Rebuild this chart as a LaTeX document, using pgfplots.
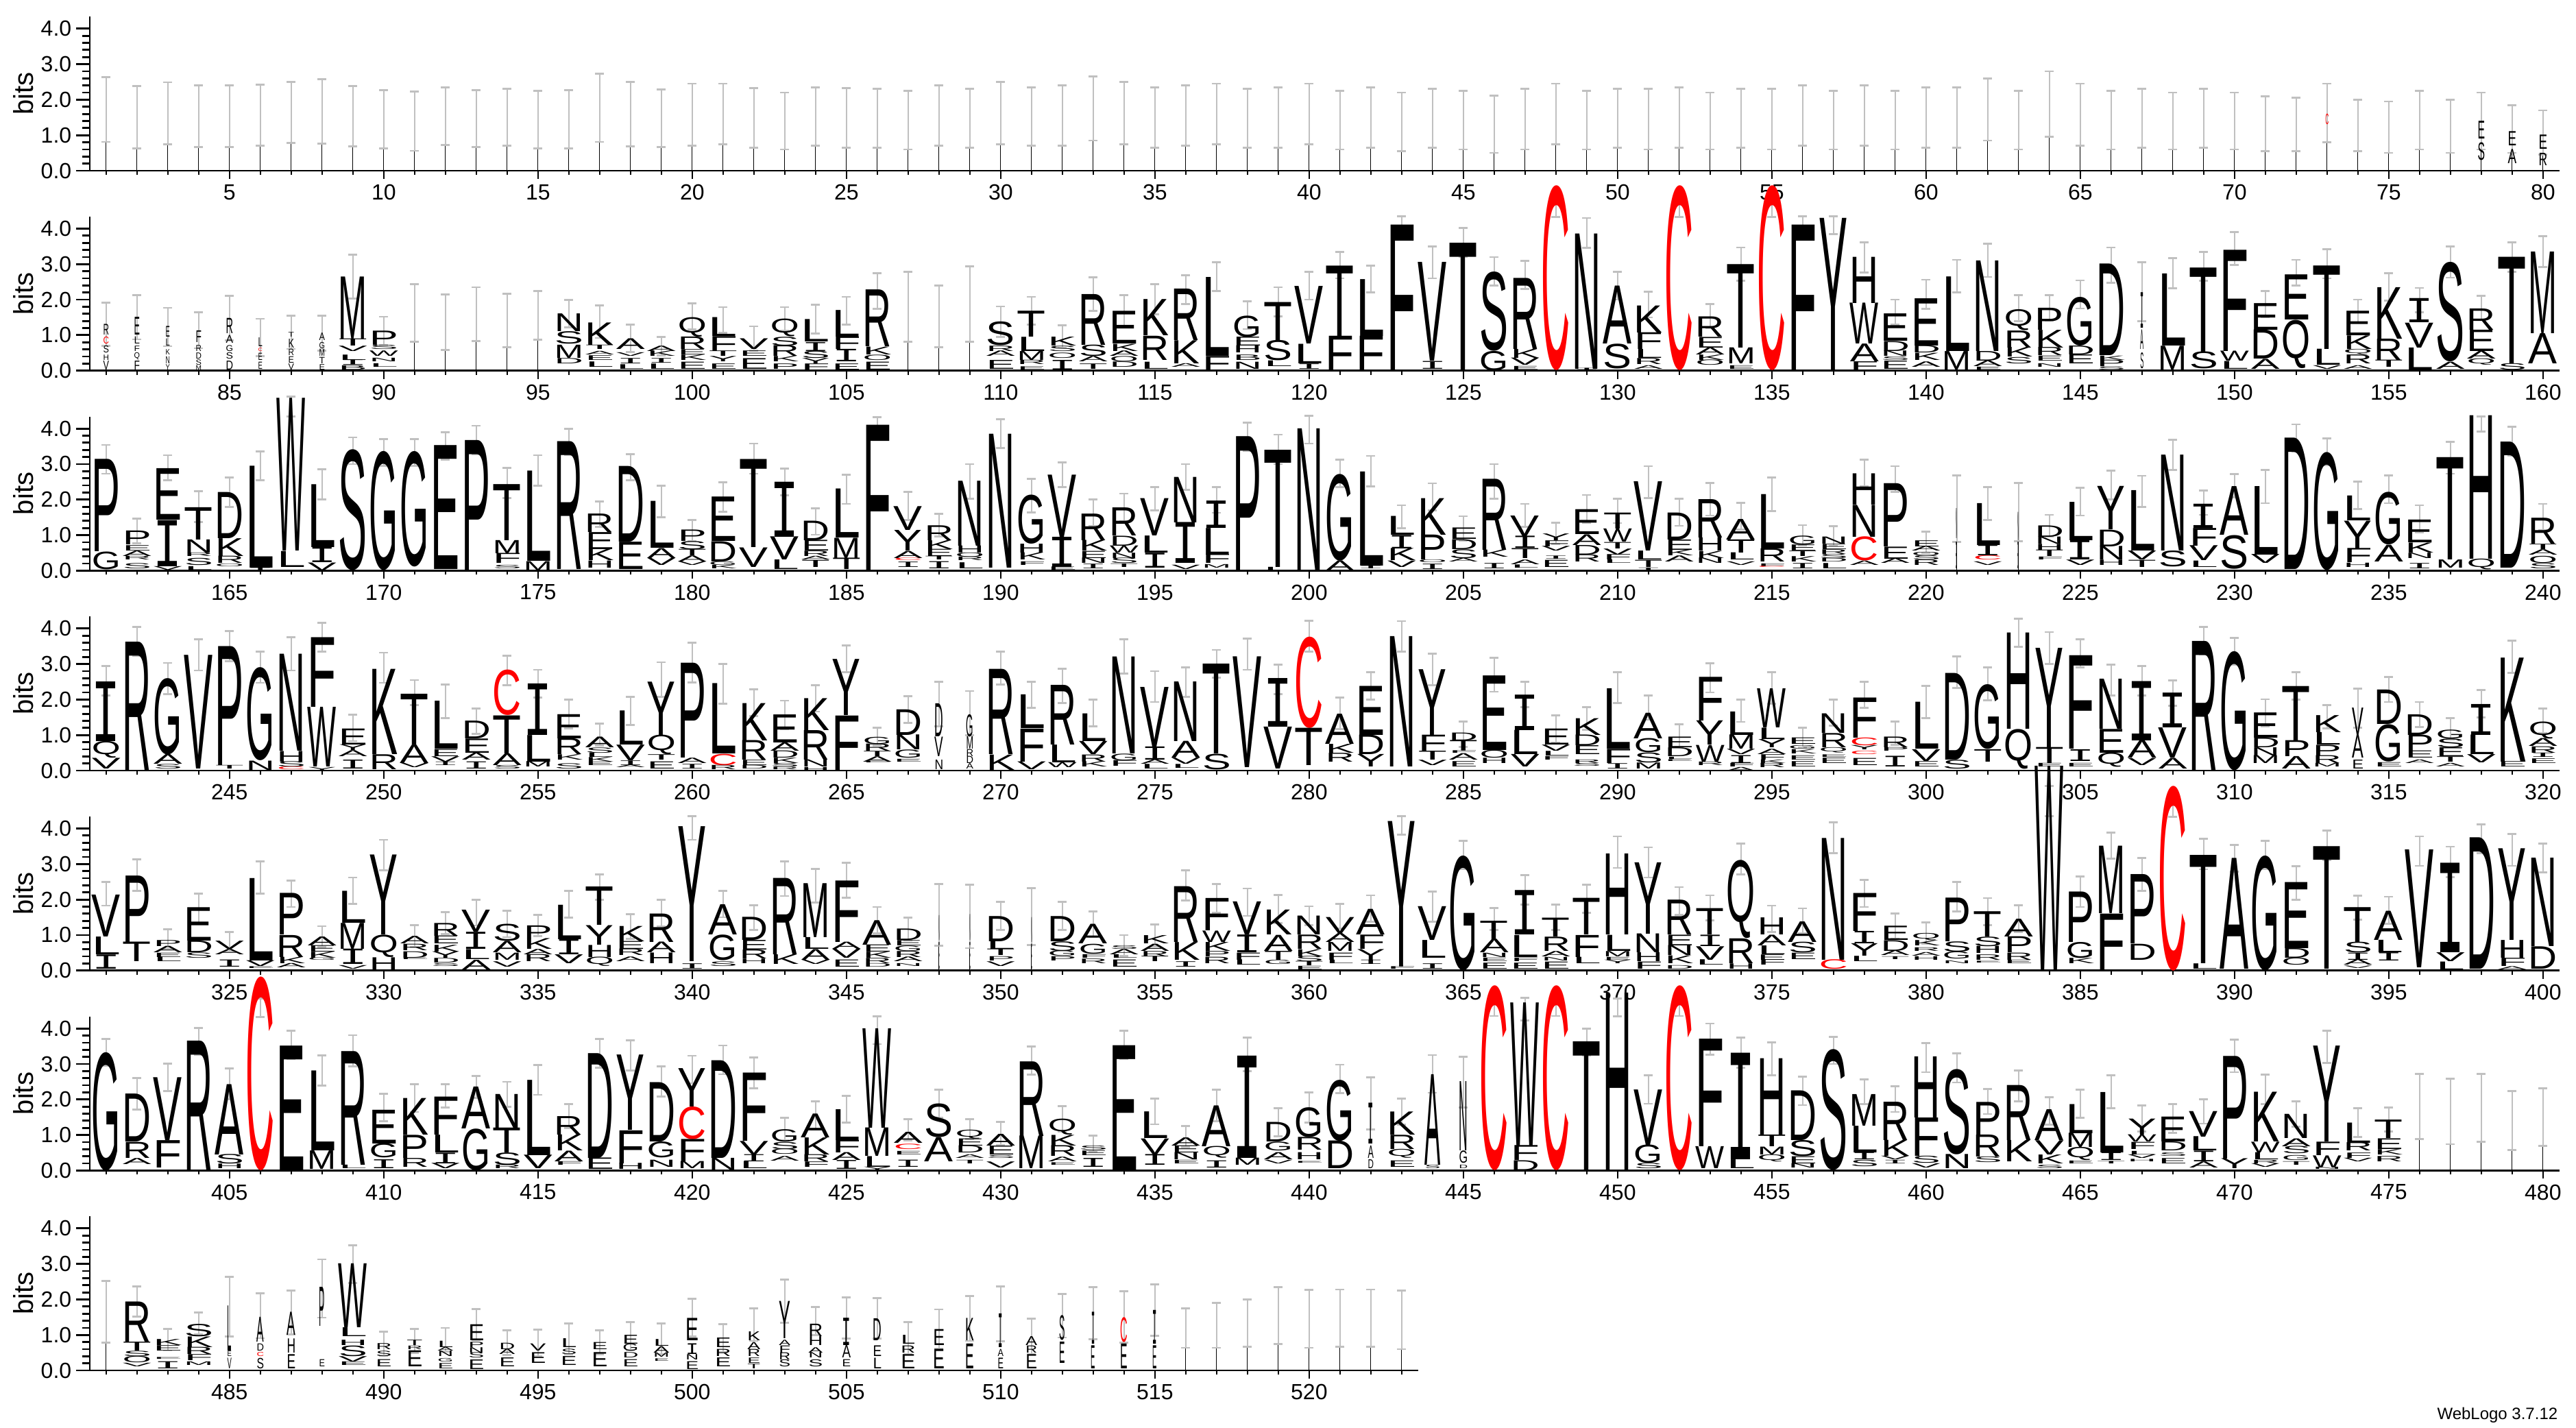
\documentclass[border=0pt]{standalone}
\usepackage{pgfplots}
\usepackage{pgfplotstable}
\usepackage{fontspec}
\setmainfont{Liberation Sans}
\setmonofont{Liberation Mono}
\pgfplotsset{compat=1.18}
\definecolor{errg}{RGB}{192,192,192}
\newdimen\lh
\newcommand\logoL[3]{\pgfmathsetlength\lh{#2*12.95pt}\ifnum\strcmp{#1}{C}=0\color{red}\fi\resizebox*{#3\dimexpr10.5pt\relax}{\lh}{\ifnum\strcmp{#1}{I}=0\ttfamily\fi#1}}
\pgfplotstableset{
  create on use/mid/.style={create col/expr={(\thisrow{lo}+\thisrow{hi})/2}},
  create on use/err/.style={create col/expr={(\thisrow{hi}-\thisrow{lo})/2}}}
\pgfplotstableread{
x lo hi t
1 .81 2.63 1.65
2 .63 2.38 1.5
3 .74 2.49 1.58
4 .67 2.4 1.53
5 .67 2.4 1.53
6 .71 2.42 1.55
7 .78 2.5 1.65
8 .76 2.58 1.75
9 .69 2.38 1.52
10 .62 2.27 1.45
11 .56 2.23 1.42
12 .73 2.35 1.52
13 .67 2.27 1.48
14 .71 2.31 1.5
15 .63 2.25 1.42
16 .62 2.27 1.45
17 .81 2.73 1.75
18 .69 2.5 1.6
19 .67 2.29 1.45
20 .7 2.45 1.57
21 .75 2.45 1.6
22 .65 2.32 1.48
23 .6 2.2 1.4
24 .7 2.35 1.52
25 .65 2.32 1.48
26 .65 2.3 1.48
27 .6 2.25 1.42
28 .7 2.4 1.55
29 .65 2.3 1.48
30 .75 2.5 1.62
31 .7 2.35 1.52
32 .7 2.4 1.55
33 .85 2.65 1.75
34 .75 2.5 1.62
35 .65 2.35 1.5
36 .7 2.4 1.55
37 .75 2.45 1.6
38 .65 2.3 1.48
39 .65 2.35 1.5
40 .75 2.45 1.6
41 .6 2.25 1.42
42 .65 2.35 1.5
43 .55 2.2 1.38
44 .65 2.3 1.48
45 .6 2.25 1.42
46 .5 2.12 1.3
47 .6 2.3 1.45
48 .75 2.45 1.6
49 .6 2.25 1.42
50 .65 2.3 1.48
51 .6 2.3 1.45
52 .65 2.35 1.5
53 .6 2.2 1.4
54 .65 2.3 1.48
55 .6 2.3 1.45
56 .7 2.4 1.55
57 .6 2.25 1.42
58 .7 2.4 1.55
59 .6 2.25 1.42
60 .65 2.35 1.5
61 .65 2.35 1.5
62 .85 2.6 1.72
63 .6 2.25 1.42
64 .95 2.8 1.87
65 .7 2.45 1.58
66 .6 2.25 1.42
67 .65 2.3 1.48
68 .6 2.2 1.4
69 .65 2.3 1.48
70 .6 2.2 1.4
71 .55 2.1 1.32
72 .55 2.05 1.3
73 .8 2.45 1.6
74 .55 2 1.28
75 .5 1.95 1.22
76 .6 2.25 1.42
77 .5 2 1.25
78 .6 2.2 1.4
79 .5 1.85 1.15
80 .45 1.7 1.05
}\EA
\pgfplotstableread{
x b t l w
73 1.3 1.6 C .12
78 .9 1.4 E .25
78 .3 .8 S .25
79 .7 1.1 E .3
79 .2 .6 A .3
80 .6 1 E .3
80 .15 .5 R .3
}\NA
\pgfplotstableread{
x lo hi t
81 .7 1.92 0
82 .88 2.12 0
83 .69 1.77 0
84 .63 1.64 0
85 .85 2.1 0
86 .41 1.46 0
87 .61 1.55 0
88 .56 1.55 0
89 2.03 3.26 0
90 .72 1.52 0
91 .82 2.43 1.65
92 .59 2.15 1.4
93 .84 2.35 1.6
94 .66 2.16 1.45
95 .87 2.24 1.55
96 1.22 1.99 0
97 .92 1.83 0
98 .53 1.29 0
99 .43 .95 0
100 1.16 1.9 0
101 1.06 1.79 0
102 .56 1.25 0
103 1.13 1.79 0
104 1.05 1.85 0
105 1.3 2.08 0
106 1.74 2.75 0
107 .82 2.79 1.85
108 .66 2.4 1.5
109 .82 2.93 1.85
110 .95 1.81 0
111 1.3 2.08 0
112 .65 1.27 0
113 1.69 2.63 0
114 1.26 2.12 0
115 1.59 2.43 0
116 1.88 2.69 0
117 2.24 3.06 0
118 1.17 1.95 0
119 1.53 2.35 0
120 2 2.79 0
121 2.6 3.35 0
122 2.2 2.96 0
123 3.72 4.35 0
124 2.6 3.5 0
125 3.2 4.02 0
126 2.4 3.2 0
127 2.3 3.09 0
128 4.33 4.82 0
129 3.46 4.3 0
130 2 2.79 0
131 1.5 2.23 0
132 4.33 4.82 0
133 1.2 1.88 0
134 2.54 3.47 0
135 4.33 4.82 0
136 3.72 4.35 0
137 3.85 4.35 0
138 2.77 3.62 0
139 1.3 2 0
140 1.74 2.56 0
141 2.2 3.12 0
142 2.64 3.58 0
143 1.4 2.12 0
144 1.42 2.12 0
145 1.75 2.54 0
146 2.48 3.47 0
147 1.4 3.06 0
148 2.32 3.17 0
149 2.53 3.35 0
150 2.97 3.9 0
151 1.5 2.25 0
152 2.39 3.12 0
153 2.6 3.42 0
154 1.36 2 0
155 1.98 2.75 0
156 1.65 2.33 0
157 2.62 3.49 0
158 1.43 2.11 0
159 2.78 3.62 0
160 2.92 3.78 0
}\EB
\pgfplotstableread{
x b t l w
81 1 1.3 R .2
81 .75 .95 C .2
81 .5 .7 S .2
81 .3 .45 H .2
81 .03 .28 V .2
82 1 1.5 E .2
82 .75 .95 L .2
82 .55 .7 F .2
82 .3 .5 Q .2
82 .03 .28 F .2
83 .95 1.25 E .15
83 .7 .9 L .15
83 .45 .6 K .15
83 .2 .4 N .15
83 .03 .18 Y .15
84 .8 1.13 F .2
84 .55 .72 R .2
84 .33 .5 D .2
84 .15 .3 S .2
84 .03 .15 M .2
85 1.05 1.48 R .25
85 .78 1 A .25
85 .55 .72 G .25
85 .32 .5 S .25
85 .03 .28 D .25
86 .68 .93 L .15
86 .55 .65 C .15
86 .3 .5 E .15
86 .05 .25 E .15
87 .95 1.08 T .2
87 .65 .9 K .2
87 .42 .6 R .2
87 .22 .4 E .2
87 .03 .2 V .2
88 .85 1.06 A .2
88 .62 .8 G .2
88 .4 .6 M .2
88 .2 .38 T .2
88 .03 .18 E .2
147 1.2 2.2 I .12
147 .6 1.15 A .12
147 .05 .5 S .12
}\NB
\pgfplotstableread{
x b t l
89 .9 2.65 M
89 .7 .9 T
89 .55 .7 V
89 .3 .45 L
89 .15 .3 I
89 .03 .15 B
90 .72 1.12 P
90 .6 .72 S
90 .4 .55 W
90 .25 .35 N
90 .1 .2 L
96 1.1 1.6 N
96 .75 1.1 S
96 .35 .72 M
96 .2 .35 D
97 .72 1.35 K
97 .6 .72 T
97 .45 .55 A
97 .3 .43 E
97 .1 .25 L
98 .6 .9 A
98 .4 .5 V
98 .2 .35 I
98 .05 .18 L
99 .55 .7 A
99 .4 .55 K
99 .22 .35 I
99 .05 .2 L
100 .95 1.5 Q
100 .6 .95 R
100 .45 .6 E
100 .3 .45 K
100 .05 .25 E
101 .97 1.5 L
101 .55 .97 F
101 .4 .55 T
101 .25 .4 Y
101 .05 .2 E
102 .6 .9 V
102 .4 .55 E
102 .05 .35 E
103 .95 1.45 Q
103 .7 .95 S
103 .4 .7 R
103 .25 .4 K
103 .05 .2 P
104 .82 1.45 L
104 .55 .8 I
104 .35 .55 S
104 .2 .35 Y
104 .03 .2 F
105 .95 1.7 L
105 .6 .95 F
105 .25 .6 I
105 .03 .2 E
106 .67 2.27 R
106 .45 .67 K
106 .3 .45 O
106 .03 .25 E
110 .7 1.37 S
110 .55 .7 R
110 .4 .55 A
110 .05 .3 E
111 .95 1.68 T
111 .55 .95 L
111 .3 .55 M
111 .18 .3 R
111 .03 .12 E
112 .7 .95 K
112 .55 .7 S
112 .35 .5 O
112 .03 .3 I
113 .72 2.15 R
113 .4 .72 S
113 .25 .4 A
113 .05 .2 T
114 .75 1.67 E
114 .55 .75 K
114 .4 .55 A
114 .25 .4 O
114 .1 .25 D
115 .98 2 K
115 .3 .98 R
115 .05 .25 L
116 .85 2.3 R
116 .2 .85 K
116 .1 .2 A
117 .4 2.62 L
117 0 .4 F
118 .95 1.55 G
118 .7 .95 E
118 .5 .7 H
118 .3 .45 B
118 .05 .25 N
119 .85 1.92 T
119 .28 .85 S
119 .12 .28 L
120 .75 2.37 V
120 .2 .75 L
120 .05 .2 I
121 .97 2.95 T
121 0 .97 F
122 .97 2.57 L
122 0 .97 F
123 0 4.1 F
124 .27 3.05 V
124 .05 .27 I
125 0 3.59 T
126 .55 2.78 S
126 0 .55 G
127 .6 2.6 R
127 .35 .6 K
127 .15 .35 V
127 .02 .12 E
128 0 5.2 C
129 .05 3.86 N
129 0 .05 I
130 .75 2.38 A
130 .05 .75 S
131 1.07 1.83 K
131 .6 1.07 F
131 .35 .6 L
131 .18 .35 R
131 .05 .15 A
132 0 5.2 C
133 .95 1.52 R
133 .65 .95 E
133 .45 .65 A
133 .3 .45 K
133 .15 .3 O
134 .65 3 T
134 .2 .65 M
134 .05 .15 E
135 0 5.2 C
136 0 4.1 F
137 .03 4.3 Y
138 1.9 3.2 H
138 .75 1.9 W
138 .25 .75 A
138 0 .25 F
139 .83 1.6 E
139 .55 .83 D
139 .4 .55 N
139 .3 .4 S
139 .05 .28 E
140 .7 2.03 E
140 .5 .7 D
140 .3 .5 K
140 .1 .25 A
141 .55 2.65 L
141 .03 .55 M
142 .55 3.1 N
142 .28 .55 D
142 .12 .28 A
142 .02 .1 E
143 1.13 1.72 Q
143 .65 1.13 R
143 .38 .65 K
143 .2 .38 S
144 1.15 1.77 P
144 .65 1.15 K
144 .42 .65 R
144 .28 .42 E
144 .1 .2 N
145 .7 2.07 G
145 .45 .7 D
145 .2 .45 E
146 .42 3 D
146 .3 .42 K
146 .12 .3 P
146 .03 .12 S
148 .7 2.73 L
148 .03 .7 M
149 .53 2.9 T
149 .05 .53 S
150 .55 3.4 F
150 .27 .55 W
150 .05 .27 L
151 1.15 1.9 E
151 .33 1.15 D
151 .05 .33 A
152 1.43 2.7 E
152 .07 1.43 Q
153 .6 2.95 T
153 .15 .6 L
153 .05 .15 V
154 .98 1.67 E
154 .6 .98 K
154 .45 .6 Q
154 .2 .45 R
154 .05 .15 A
155 .9 2.35 K
155 .3 .9 R
155 .1 .3 T
156 1.35 2.03 I
156 .65 1.35 V
156 .03 .65 L
157 .25 3.05 S
157 .05 .25 A
158 1.15 1.75 R
158 .55 1.15 E
158 .33 .55 A
158 .15 .33 Q
159 .2 3.2 T
159 .02 .2 S
160 1.05 3.35 M
160 .2 1.05 A
}\LB
\pgfplotstableread{
x lo hi t
161 2.73 3.54 0
162 .77 1.47 0
163 2.54 3.25 0
164 1.37 2.23 0
165 1.79 2.62 0
166 2.54 3.36 0
167 4.34 4.9 0
168 2 2.85 0
169 3 3.75 0
170 2.95 3.7 0
171 2.95 3.7 0
172 3.13 3.9 0
173 3.28 4.08 0
174 2.05 2.9 0
175 2.39 3.25 0
176 3.25 4 0
177 1.23 1.95 0
178 2.55 3.28 0
179 1.5 2.39 0
180 .82 1.43 0
181 1.66 2.49 0
182 2.73 3.58 0
183 2.12 2.87 0
184 1.01 1.75 0
185 1.88 2.7 0
186 3.75 4.32 0
187 1.42 2.21 0
188 .96 1.6 0
189 2.03 3 0
190 3.46 4.27 0
191 1.64 2.59 0
192 2.36 3.04 0
193 1.26 2.01 0
194 1.39 2.17 0
195 1.69 2.35 0
196 2.28 3 0
197 1.63 2.35 0
198 3.38 4.16 0
199 3 3.83 0
200 3.58 4.36 0
201 2.36 3.13 0
202 2.37 3.23 0
203 1.2 1.84 0
204 1.7 2.46 0
205 .84 1.53 0
206 2.03 3 0
207 1.23 1.88 0
208 .75 1.35 0
209 1.34 2.13 0
210 1.34 2.02 0
211 2.05 2.94 0
212 1.26 2.02 0
213 1.55 2.47 0
214 1.15 1.91 0
215 1.68 2.62 0
216 .7 1.28 0
217 .7 1.25 0
218 2.37 3.12 0
219 2.22 2.94 0
220 .5 1.1 0
221 .81 2.68 1.75
222 1.43 2.36 0
223 .82 2.47 1.65
224 .97 1.57 0
225 1.55 2.34 0
226 2 2.81 0
227 1.79 2.67 0
228 2.83 3.68 0
229 1.57 2.25 0
230 2.07 2.72 0
231 1.9 2.84 0
232 3.35 4.12 0
233 2.97 3.72 0
234 1.74 2.5 0
235 1.9 2.68 0
236 1.07 1.84 0
237 2.73 3.63 0
238 3.92 4.34 0
239 3.23 4.05 0
240 1.13 1.88 0
}\EC
\pgfplotstableread{
x b t l w
221 .9 1.75 N .05
221 .05 .8 E .05
223 .85 1.65 N .05
223 .05 .8 E .05
}\NC
\pgfplotstableread{
x b t l
161 .53 3.13 P
161 .03 .53 G
162 .73 1.12 P
162 .55 .7 E
162 .4 .55 A
162 .3 .4 R
162 .05 .2 S
163 1.42 2.87 E
163 .12 1.42 I
163 .02 .12 V
164 .87 1.78 T
164 .5 .87 N
164 .4 .5 R
164 .15 .35 S
164 .02 .12 L
165 .9 2.2 D
165 .4 .9 K
165 .2 .4 R
165 .12 .2 O
166 .08 2.95 L
166 0 .08 I
167 .55 4.85 W
167 .1 .55 L
168 .65 2.42 L
168 .22 .65 I
168 0 .22 V
169 0 3.4 S
170 0 3.35 G
171 .1 3.35 G
172 .03 3.52 E
173 0 3.67 P
174 .85 2.43 T
174 .48 .85 M
174 .2 .48 F
174 .05 .15 S
175 .26 2.8 L
175 0 .26 M
176 .03 3.63 R
177 1.08 1.6 R
177 .6 1.08 E
177 .28 .6 K
177 .08 .28 H
178 .8 2.93 D
178 .03 .8 E
179 .63 1.95 L
179 .35 .63 A
179 .15 .35 V
180 .83 1.15 P
180 .6 .83 S
180 .42 .6 T
180 .25 .42 A
180 .15 .25 V
181 .82 2.07 E
181 .25 .82 D
181 .15 .25 G
181 .05 .15 K
182 .65 3.13 T
182 .1 .65 V
183 .95 2.5 I
183 .3 .95 V
183 .03 .3 L
184 .85 1.4 D
184 .55 .85 E
184 .4 .55 R
184 .3 .4 A
184 .1 .3 T
185 .92 2.3 L
185 .35 .92 M
185 .03 .35 T
186 0 4.1 F
187 1.13 1.8 V
187 .55 1.13 Y
187 .35 .55 A
187 .28 .35 C
187 .1 .25 I
188 .85 1.27 R
188 .6 .85 K
188 .4 .6 E
188 .3 .4 T
188 .05 .25 I
189 .7 2.53 N
189 .5 .7 H
189 .38 .5 O
189 .28 .38 R
189 .05 .22 L
190 .08 3.85 N
191 .75 2.13 G
191 .5 .75 H
191 .3 .5 K
191 .15 .25 F
192 .95 2.7 V
192 .1 .95 I
192 .01 .1 E
193 .85 1.6 R
193 .55 .85 K
193 .35 .55 E
193 .2 .35 N
193 .05 .18 I
194 .98 1.77 R
194 .7 .98 D
194 .5 .7 W
194 .35 .5 N
194 .2 .35 S
194 .1 .2 T
195 .98 2.03 V
195 .5 .98 L
195 .08 .5 I
196 1.35 2.63 N
196 .2 1.35 I
196 .03 .15 V
197 1.2 1.97 I
197 .45 1.2 L
197 .2 .45 F
197 .08 .18 M
198 .02 3.78 P
199 .1 3.4 T
199 0 .1 L
200 0 4 N
201 .28 2.72 G
201 0 .28 A
202 .13 2.78 L
202 .05 .13 I
203 1 1.53 L
203 .62 1 I
203 .28 .62 K
203 .1 .28 V
204 1 2.03 K
204 .3 1 P
204 .22 .3 O
204 .03 .18 I
205 .88 1.2 E
205 .6 .88 D
205 .35 .6 S
205 .25 .35 A
206 .58 2.58 R
206 .38 .58 K
206 .05 .2 I
207 .97 1.55 V
207 .63 .97 I
207 .35 .63 T
207 .17 .3 A
207 .08 .17 L
208 .85 1.04 Y
208 .68 .85 F
208 .55 .68 V
208 .33 .42 I
208 .1 .3 E
209 1.02 1.72 E
209 .72 1.02 A
209 .45 .72 D
209 .25 .45 R
210 1.17 1.62 T
210 .8 1.17 W
210 .62 .8 T
210 .45 .62 V
210 .3 .45 F
210 .2 .3 L
211 .55 2.5 V
211 .3 .55 L
211 .1 .3 T
211 0 .08 I
212 .87 1.63 D
212 .58 .87 E
212 .42 .58 K
212 .25 .42 A
213 .92 2 R
213 .55 .92 H
213 .35 .55 K
213 .2 .35 N
214 .87 1.45 A
214 .5 .87 T
214 .3 .5 L
214 .15 .25 V
215 .62 2.15 L
215 .25 .62 R
215 .12 .2 F
215 .08 .12 C
216 .72 .97 G
216 .55 .72 E
216 .4 .55 T
216 .25 .4 K
216 .05 .2 I
217 .75 .95 N
217 .6 .75 E
217 .47 .6 R
217 .35 .47 S
217 .25 .35 D
217 .05 .2 L
218 1.85 2.73 H
218 .95 1.85 N
218 .27 .95 C
218 .15 .27 A
219 .67 2.45 P
219 .33 .67 E
219 .2 .33 A
220 .68 .85 E
220 .55 .68 A
220 .42 .52 O
220 .3 .42 S
220 .15 .3 R
222 .72 1.9 L
222 .42 .72 I
222 .3 .42 C
222 .15 .25 V
224 .95 1.27 D
224 .75 .95 N
224 .58 .75 H
224 .4 .58 T
224 .3 .38 F
225 .85 1.93 L
225 .3 .85 I
225 .15 .3 V
226 1.15 2.37 Y
226 .68 1.15 D
226 .3 .68 N
226 .15 .3 H
227 .55 2.25 L
227 .3 .55 V
227 .1 .3 T
228 .55 3.25 N
228 .1 .55 S
229 1.2 1.88 I
229 .7 1.2 F
229 .28 .7 V
229 .1 .28 L
230 1 2.37 A
230 .05 1 S
231 .45 2.38 L
231 .2 .45 V
232 .03 3.73 D
233 0 3.32 G
234 1.4 2.1 L
234 .62 1.4 Y
234 .22 .62 F
234 .1 .22 H
235 .72 2.2 G
235 .25 .72 A
236 .78 1.42 E
236 .5 .78 K
236 .35 .5 N
236 .05 .2 I
237 .3 3.18 T
237 .07 .3 M
238 .33 4.37 H
238 .03 .33 Q
239 .08 3.63 D
240 .75 1.48 R
240 .6 .75 T
240 .45 .6 A
240 .2 .4 O
240 .05 .2 S
}\LC
\pgfplotstableread{
x lo hi t
241 2.11 2.95 0
242 3.24 4.04 0
243 2.15 3.03 0
244 2.82 3.69 0
245 3.08 3.93 0
246 2.47 3.35 0
247 2.82 3.76 0
248 3.35 4.16 0
249 .83 1.58 0
250 2.47 3.32 0
251 1.84 2.55 0
252 1.48 2.42 0
253 1.03 1.75 0
254 2.4 3.24 0
255 2.06 2.84 0
256 1.19 2 0
257 .71 1.32 0
258 1.28 2.08 0
259 2.08 3.05 0
260 2.48 3.6 0
261 1.88 3 0
262 1.53 2.29 0
263 1.16 1.97 0
264 1.66 2.41 0
265 2.77 3.53 0
266 .7 1.2 0
267 1.35 2.09 0
268 1.24 2.5 0
269 1 2.24 0
270 2.42 3.35 0
271 1.77 2.5 0
272 1.9 2.87 0
273 1.24 2 0
274 2.74 3.69 0
275 1.93 2.8 0
276 2.08 2.91 0
277 2.61 3.4 0
278 2.84 3.72 0
279 2.16 2.99 0
280 3.35 4.22 0
281 1.17 2.05 0
282 2 2.77 0
283 3.35 4.21 0
284 2.41 3.29 0
285 .66 1.38 0
286 2.22 3.17 0
287 1.79 2.5 0
288 .79 1.55 0
289 1.15 1.79 0
290 1.9 2.77 0
291 1.43 2.11 0
292 .66 1.3 0
293 2.2 3.02 0
294 1.37 2 0
295 1.88 2.77 0
296 .65 1.2 0
297 1.27 2 0
298 1.77 2.5 0
299 .72 1.38 0
300 1.48 2.39 0
301 2.32 3.22 0
302 1.98 2.9 0
303 3.48 4.27 0
304 3 3.9 0
305 2.9 3.69 0
306 2.11 2.98 0
307 2.12 2.95 0
308 1.83 2.54 0
309 3.27 4.05 0
310 2.98 3.73 0
311 1.24 2.01 0
312 2 2.77 0
313 1.19 1.84 0
314 1.2 2.3 0
315 1.93 2.64 0
316 1.23 1.93 0
317 .88 1.48 0
318 1.5 2.27 0
319 2.75 3.66 0
320 1.05 1.75 0
}\ED
\pgfplotstableread{
x b t l w
268 .95 1.88 D .3
268 .4 .95 V .3
268 .03 .3 N .3
269 .95 1.58 G .25
269 .6 .95 M .25
269 .4 .6 R .25
269 .2 .4 D .25
269 .05 .2 A .25
314 1 1.77 V .4
314 .35 1 A .4
314 .05 .3 E .4
}\ND
\pgfplotstableread{
x b t l
241 .82 2.5 I
241 .35 .82 Q
241 .05 .35 V
242 0 3.63 R
243 .45 2.6 G
243 .18 .45 A
243 .05 .18 S
244 .05 3.25 V
245 .15 3.5 P
245 .05 .15 T
246 .28 2.9 G
246 .02 .28 N
247 .55 3.28 N
247 .25 .55 H
247 .1 .25 S
247 .02 .1 C
248 1.78 3.74 F
248 .1 1.78 W
248 0 .1 Y
249 .73 1.18 E
249 .57 .73 Y
249 .4 .57 A
249 .05 .3 I
250 .45 2.85 K
250 .03 .45 R
251 .72 2.15 T
251 .2 .72 A
251 .08 .2 V
252 .6 1.95 L
252 .4 .6 E
252 .25 .4 V
252 .15 .25 I
253 .9 1.4 D
253 .5 .9 E
253 .3 .5 A
253 .05 .25 I
254 1.55 2.83 C
254 .48 1.55 T
254 .15 .48 A
254 .05 .15 S
255 1 2.45 I
255 .25 1 L
255 .1 .25 M
256 .9 1.58 E
256 .45 .9 R
256 .3 .45 K
256 .05 .2 S
257 .65 .95 A
257 .5 .65 S
257 .38 .5 L
257 .25 .38 K
257 .15 .25 E
258 .72 1.68 L
258 .28 .72 V
258 .15 .28 I
258 .08 .15 A
259 1 2.5 Y
259 .45 1 Q
259 .3 .45 T
259 .05 .25 E
260 .35 3.02 P
260 .2 .35 A
260 .05 .18 I
261 .47 2.45 L
261 .15 .47 C
261 .03 .15 R
262 .85 1.9 K
262 .3 .85 R
262 .15 .3 E
262 .05 .15 D
263 .78 1.57 E
263 .55 .78 A
263 .35 .55 D
263 .2 .35 K
263 .1 .2 S
263 .03 .1 R
264 1.13 2.03 K
264 .3 1.13 R
264 .1 .3 N
264 0 .1 H
265 1.55 3.13 Y
265 .02 1.55 F
266 .75 .95 G
266 .55 .75 R
266 .4 .55 T
266 .25 .4 A
266 .2 .25 E
267 1 1.72 D
267 .58 1 N
267 .35 .58 G
267 .25 .33 E
270 .45 2.85 R
270 .02 .45 K
271 1.18 2.13 L
271 .25 1.18 F
271 .03 .25 V
272 .72 2.4 R
272 .22 .72 L
272 .08 .22 W
273 .82 1.6 L
273 .45 .82 V
273 .25 .45 R
273 .1 .25 K
274 .47 3.2 N
274 .28 .47 G
274 .12 .28 F
275 .67 2.35 V
275 .3 .67 I
275 .18 .3 A
275 .05 .18 L
276 .82 2.5 N
276 .35 .82 A
276 .18 .35 V
276 .07 .18 L
277 .47 3 T
277 .03 .47 S
278 .08 3.2 V
279 1.23 2.6 I
279 .05 1.23 V
280 1.2 3.77 C
280 .15 1.2 T
281 .75 1.6 A
281 .5 .75 K
281 .25 .5 R
282 1 2.38 E
282 .45 1 D
282 .1 .45 Y
283 .1 3.77 N
284 1 2.85 Y
284 .55 1 F
284 .3 .55 T
284 .15 .3 V
285 .85 1.07 D
285 .55 .85 T
285 .48 .55 F
285 .3 .48 A
285 .1 .25 E
286 .57 2.67 E
286 .35 .57 O
286 .2 .35 H
287 1.13 2.13 I
287 .45 1.13 L
287 .1 .45 V
288 .72 1.17 E
288 .55 .72 V
288 .42 .55 L
288 .3 .4 F
289 1 1.47 K
289 .7 1 D
289 .45 .7 E
289 .2 .3 R
289 .12 .2 S
290 .6 2.3 L
290 .2 .6 F
290 .05 .2 I
291 .9 1.62 A
291 .5 .9 G
291 .22 .5 S
291 .05 .22 M
292 .65 .95 E
292 .4 .65 D
292 .32 .38 L
292 .25 .3 E
293 1.4 2.63 F
293 .72 1.4 Y
293 .25 .72 W
293 .15 .25 R
294 1 1.66 L
294 .6 1 M
294 .45 .6 V
294 .2 .42 I
294 .1 .2 F
294 0 .1 A
295 1.2 2.3 W
295 .88 1.2 L
295 .65 .88 Y
295 .45 .6 A
295 .3 .45 F
295 .2 .3 K
295 .08 .2 R
296 .75 .93 E
296 .6 .7 G
296 .48 .6 K
296 .3 .42 E
296 .1 .25 E
297 1.05 1.6 N
297 .65 1.05 R
297 .5 .65 Q
297 .38 .45 E
297 .2 .35 E
298 .92 2.05 F
298 .7 .92 C
298 .58 .7 Y
298 .45 .55 C
298 .15 .35 E
299 .65 .95 R
299 .55 .65 P
299 .1 .4 I
300 .6 1.92 L
300 .27 .6 V
300 .1 .25 E
301 .3 2.74 D
301 .05 .3 S
302 .6 2.42 G
302 .25 .6 T
303 1.17 3.88 H
303 .05 1.17 Q
304 .65 3.45 Y
304 .2 .65 T
304 .1 .2 E
305 .6 3.23 F
305 .27 .6 I
305 .1 .2 E
306 1.17 2.58 N
306 .5 1.17 E
306 .1 .5 Q
307 .85 2.52 I
307 .35 .85 A
307 .15 .35 V
308 1.2 2.18 I
308 .35 1.2 V
308 .05 .35 A
309 0 3.65 R
310 0 3.35 G
311 .92 1.63 E
311 .65 .92 D
311 .42 .65 N
311 .2 .42 M
312 .85 2.38 T
312 .4 .85 P
312 .05 .4 A
313 1.07 1.55 K
313 .72 1.07 L
313 .42 .72 P
313 .2 .42 R
313 .1 .2 M
315 1.3 2.27 D
315 .25 1.3 G
315 .1 .22 E
316 1 1.58 D
316 .55 1 P
316 .35 .55 E
316 .2 .3 A
317 .9 1.15 G
317 .65 .9 S
317 .4 .65 E
317 .25 .4 T
317 .1 .2 A
318 1 1.87 I
318 .45 1 L
318 .22 .45 V
319 .25 3.18 K
319 .1 .25 E
320 .9 1.38 Q
320 .68 .9 A
320 .5 .68 R
320 .38 .5 I
320 .2 .33 E
}\LD
\pgfplotstableread{
x lo hi t
321 1.83 2.5 0
322 2.24 3.13 0
323 .6 1.16 0
324 1.34 2.17 0
325 .52 1.08 0
326 2.16 3.08 0
327 1.79 2.53 0
328 .66 1.25 0
329 1.87 2.62 0
330 2.83 3.68 0
331 .66 1.28 0
332 1.02 1.65 0
333 1.27 2 0
334 .94 1.68 0
335 .97 1.57 0
336 1.49 2.24 0
337 1.99 2.71 0
338 .9 1.59 0
339 1.25 2 0
340 3.68 4.35 0
341 1.5 2.24 0
342 1.15 1.84 0
343 2.1 3.08 0
344 1.92 2.86 0
345 2.05 3.03 0
346 1.05 1.79 0
347 .85 1.49 0
348 .7 2.44 1.55
349 .63 2.41 1.58
350 1.15 1.94 0
351 .72 2.32 1.5
352 1.15 1.94 0
353 .95 1.66 0
354 .41 1 0
355 .68 1.3 0
356 1.97 2.82 0
357 1.63 2.44 0
358 1.54 2.31 0
359 1.34 2.13 0
360 1.28 1.81 0
361 1.18 1.87 0
362 1.37 2.12 0
363 3.82 4.35 0
364 1.37 2.23 0
365 2.86 3.66 0
366 1.15 1.76 0
367 1.86 2.68 0
368 1.15 1.85 0
369 1.63 2.42 0
370 2.89 3.78 0
371 2.62 3.47 0
372 1.57 2.35 0
373 1.41 2.12 0
374 2.7 3.57 0
375 1.08 1.83 0
376 1.05 1.75 0
377 3.3 4.17 0
378 1.79 2.55 0
379 .89 1.6 0
380 .76 1.35 0
381 1.66 2.49 0
382 1.28 2.04 0
383 1.08 1.84 0
384 4.35 5.2 0
385 1.79 2.65 0
386 3.15 3.89 0
387 2.25 3.17 0
388 4.33 4.85 0
389 2.85 3.71 0
390 2.79 3.53 0
391 2.86 3.66 0
392 1.99 2.94 0
393 3.12 3.95 0
394 1.44 2.11 0
395 1.31 2.08 0
396 2.95 3.78 0
397 2.63 3.49 0
398 3.31 4.11 0
399 2.95 3.84 0
400 2.76 3.57 0
}\EE
\pgfplotstableread{
x b t l w
348 .85 1.55 N .04
348 .05 .8 E .04
349 .85 1.58 N .04
349 .05 .8 E .04
351 .8 1.5 N .04
351 .05 .75 E .04
}\NE
\pgfplotstableread{
x b t l
321 .95 2.13 V
321 .45 .95 L
321 .05 .45 I
322 .8 2.67 P
322 .25 .8 T
323 .68 .85 P
323 .5 .68 A
323 .38 .5 E
323 .25 .38 L
324 .83 1.77 E
324 .5 .83 D
324 .35 .5 S
325 .6 .83 V
325 .45 .6 A
325 .1 .3 I
326 .28 2.6 L
326 .12 .28 V
326 .05 .1 E
327 1 2.17 P
327 .38 1 R
327 .2 .38 K
327 .08 .2 A
328 .7 .95 A
328 .52 .7 E
328 .35 .52 K
328 .28 .35 G
329 1.33 2.23 L
329 .6 1.33 M
329 .17 .6 I
329 .05 .15 V
330 1 3.25 Y
330 .37 1 Q
330 .03 .37 H
331 .75 .96 A
331 .57 .75 R
331 .35 .53 D
331 .3 .35 E
332 .97 1.33 R
332 .75 .97 E
332 .53 .72 K
332 .35 .53 Y
332 .22 .35 D
332 .12 .2 S
333 1.08 1.7 V
333 .6 1.08 I
333 .32 .6 L
333 .03 .3 A
334 .82 1.3 S
334 .5 .82 A
334 .3 .5 M
334 .1 .25 V
335 .9 1.27 P
335 .6 .9 K
335 .45 .6 A
335 .25 .45 R
336 .88 1.85 L
336 .45 .88 I
336 .2 .45 V
337 1.27 2.35 T
337 .72 1.27 Y
337 .38 .72 H
337 .12 .38 Q
338 .82 1.25 K
338 .6 .82 E
338 .42 .6 R
338 .25 .38 A
339 .8 1.6 R
339 .5 .8 A
339 .2 .5 H
340 .25 4.05 Y
340 .05 .2 I
341 1 1.85 A
341 .28 1 G
341 .12 .25 S
342 .85 1.5 D
342 .58 .85 E
342 .33 .58 R
342 .2 .33 H
343 .45 2.6 R
343 .18 .45 K
344 .93 2.45 M
344 .6 .93 L
344 .3 .6 A
344 .18 .3 V
345 .8 2.53 F
345 .6 .8 A
345 .35 .6 V
345 .1 .3 E
346 .72 1.41 A
346 .52 .72 E
346 .35 .52 K
346 .2 .35 R
346 .1 .2 D
347 .85 1.17 D
347 .7 .85 E
347 .55 .7 G
347 .38 .55 R
347 .25 .38 A
347 .12 .2 N
350 .82 1.53 D
350 .6 .82 L
350 .42 .6 T
350 .28 .4 P
350 .12 .25 V
352 .82 1.53 D
352 .55 .82 S
352 .4 .55 G
352 .28 .4 P
353 .75 1.3 A
353 .47 .75 G
353 .35 .45 F
353 .2 .33 R
354 .6 .7 S
354 .45 .6 A
354 .35 .45 L
354 .1 .3 E
355 .75 .98 K
355 .55 .75 A
355 .4 .55 R
355 .25 .4 T
356 .8 2.37 R
356 .3 .8 K
356 .1 .25 I
357 1.12 2.03 F
357 .8 1.12 W
357 .55 .8 K
357 .4 .55 P
357 .2 .38 R
358 1 1.93 V
358 .5 1 I
358 .3 .5 F
358 .15 .3 L
359 1 1.7 K
359 .55 1 A
359 .3 .55 T
359 .18 .3 G
360 1 1.53 N
360 .6 1 R
360 .4 .6 K
360 .25 .4 S
360 .13 .25 T
360 .03 .13 E
361 1.05 1.5 V
361 .8 1.05 A
361 .55 .8 M
361 .3 .5 F
361 .2 .3 L
362 1 1.72 A
362 .6 1 F
362 .3 .6 Y
362 .18 .3 I
363 .1 4.2 Y
363 .03 .1 F
364 .85 1.8 V
364 .35 .85 L
364 .05 .2 I
365 0 3.23 G
366 .88 1.4 T
366 .5 .88 A
366 .38 .5 N
366 .25 .35 E
366 .05 .22 E
367 1 2.25 I
367 .38 1 L
367 .25 .35 F
367 .05 .22 E
368 .95 1.48 T
368 .55 .95 R
368 .4 .55 A
368 .28 .38 N
368 .05 .25 E
369 1 2.03 T
369 .38 1 F
369 .2 .38 L
370 1 3.28 H
370 .55 1 L
370 .4 .55 M
370 .3 .38 E
370 .2 .3 Y
371 1.03 3.04 Y
371 .5 1.03 N
371 .25 .5 H
371 .05 .25 F
372 1 1.98 R
372 .7 1 E
372 .42 .7 N
372 .2 .42 K
372 .05 .15 D
373 1 1.74 T
373 .68 1 I
373 .3 .68 V
373 .15 .3 L
374 .9 3.1 Q
374 .2 .9 R
374 .05 .2 H
375 1 1.48 H
375 .7 1 A
375 .45 .7 L
375 .3 .45 E
375 .15 .3 F
376 .8 1.38 A
376 .5 .8 S
376 .32 .5 E
377 .3 3.73 N
377 .03 .3 C
378 1.1 2.17 F
378 .75 1.1 I
378 .4 .75 Y
378 .25 .4 L
379 .85 1.25 E
379 .55 .85 D
379 .42 .55 A
379 .32 .4 T
380 .85 1.05 Q
380 .7 .85 K
380 .55 .65 R
380 .4 .5 A
380 .3 .4 H
381 .82 2.05 P
381 .53 .82 S
381 .33 .53 G
381 .2 .28 N
382 .95 1.66 T
382 .68 .95 S
382 .48 .68 H
382 .3 .45 R
382 .2 .25 E
383 .95 1.45 A
383 .5 .95 P
383 .3 .5 R
383 .2 .3 E
384 0 5.75 W
385 .8 2.22 P
385 .35 .8 G
385 .2 .35 K
386 1.6 3.5 M
386 .03 1.6 F
387 .75 2.7 P
387 .3 .75 D
388 0 5.2 C
389 .2 3.25 T
389 .05 .2 L
390 .05 3.17 A
391 0 3.23 G
392 .62 2.48 E
392 .35 .62 D
392 .15 .35 O
393 .05 3.5 T
394 .8 1.78 T
394 .5 .8 S
394 .3 .5 I
394 .15 .3 A
394 .05 .12 V
395 .85 1.67 A
395 .5 .85 L
395 .27 .5 I
396 .08 3.4 V
397 .5 3.02 I
397 .25 .5 V
397 .03 .25 L
398 .05 3.75 D
399 .85 3.43 Y
399 .35 .85 H
399 .12 .35 F
399 .03 .12 A
400 .68 3.17 N
400 .05 .68 D
}\LE
\pgfplotstableread{
x lo hi t
401 2.95 3.71 0
402 1.71 2.6 0
403 2.23 3.01 0
404 3.26 4.01 0
405 2 2.88 0
406 4.32 4.84 0
407 3.14 3.93 0
408 2.39 3.24 0
409 2.94 3.81 0
410 1.39 2.16 0
411 1.65 2.43 0
412 1.77 2.43 0
413 2.04 2.66 0
414 1.8 2.5 0
415 2.13 2.97 0
416 1.19 1.87 0
417 2.89 3.71 0
418 2.81 3.66 0
419 2.08 2.94 0
420 2.46 3.23 0
421 2.71 3.52 0
422 2.31 3.18 0
423 .84 1.48 0
424 1.16 1.95 0
425 1.35 2.11 0
426 3.56 4.34 0
427 .84 1.44 0
428 1.48 2.28 0
429 .88 1.45 0
430 .71 1.37 0
431 2.7 3.5 0
432 1.1 1.81 0
433 .53 .99 0
434 3.14 3.93 0
435 1.3 2.03 0
436 .65 1.26 0
437 1.39 2.28 0
438 2.79 3.74 0
439 .97 1.76 0
440 1.35 2.2 0
441 2.18 2.98 0
442 1.16 2.63 0
443 1.29 2.03 0
444 2.19 3.25 0
445 1.77 3.21 0
446 4.35 4.85 0
447 4.23 4.87 0
448 4.35 4.85 0
449 3.24 4 0
450 4.34 4.85 0
451 1.88 2.68 0
452 4.35 4.85 0
453 3.26 4.14 0
454 2.89 3.74 0
455 2.68 3.61 0
456 1.84 2.65 0
457 3 3.77 0
458 1.87 2.57 0
459 1.65 2.37 0
460 2.77 3.59 0
461 2.48 3.3 0
462 1.59 2.3 0
463 1.95 2.81 0
464 1.29 2.06 0
465 1.48 2.28 0
466 1.75 2.68 0
467 1.1 1.83 0
468 1.06 1.87 0
469 1.32 2 0
470 2.77 3.68 0
471 1.87 2.7 0
472 1.23 1.95 0
473 3.03 3.94 0
474 .94 1.76 0
475 1.1 1.77 0
476 .88 2.72 1.75
477 .74 2.58 1.7
478 .81 2.72 1.8
479 .57 2.24 1.45
480 .69 2.31 1.55
}\EF
\pgfplotstableread{
x b t l w
442 .75 1.9 I .2
442 .35 .7 A .2
442 .05 .3 D .2
444 .15 2.7 A .55
444 .05 .15 S .55
445 .55 2.5 N .3
445 .2 .55 G .3
445 .05 .15 D .3
}\NF
\pgfplotstableread{
x b t l
401 0 3.33 G
402 .8 2.15 D
402 .35 .8 R
402 .18 .35 A
403 .85 2.62 V
403 .08 .85 F
404 0 3.65 R
405 .45 2.43 A
405 .18 .45 S
405 .05 .18 H
406 0 5.45 C
407 0 3.51 E
408 .55 2.8 L
408 .03 .55 M
409 .15 3.35 R
409 .05 .15 L
410 .75 1.7 E
410 .35 .75 G
410 .05 .3 I
411 1 2.03 K
411 .35 1 P
411 .1 .35 R
412 1 2.07 F
412 .5 1 L
412 .2 .5 I
412 .05 .2 V
413 1.17 2.35 A
413 0 1.17 G
414 1.2 2.15 N
414 .5 1.2 T
414 .15 .5 S
414 .05 .15 R
415 .43 2.55 L
415 .05 .43 V
416 1 1.52 R
416 .55 1 K
416 .25 .55 A
416 .15 .25 F
417 .35 3.3 D
417 .03 .35 E
418 1.13 3.25 Y
418 .2 1.13 F
418 .03 .2 H
419 .8 2.47 D
419 .35 .8 G
419 .1 .3 N
420 1.8 2.88 Y
420 .88 1.8 C
420 .25 .88 F
420 .05 .25 M
421 .35 3.1 D
421 .02 .35 N
422 .83 2.75 F
422 .45 .83 V
422 .25 .45 I
422 .05 .25 L
423 .8 1.15 G
423 .6 .8 S
423 .45 .6 O
423 .27 .4 A
424 .93 1.6 A
424 .45 .93 K
424 .25 .45 R
424 .1 .25 F
425 .85 1.72 L
425 .5 .85 F
425 .28 .5 A
425 .03 .28 I
426 1.2 4 W
426 .4 1.2 M
426 .1 .4 L
426 0 .1 Y
427 .77 1.08 A
427 .6 .75 C
427 .45 .55 E
427 .1 .3 I
428 .93 1.88 S
428 .25 .93 A
429 .9 1.15 Q
429 .7 .9 E
429 .5 .7 D
429 .35 .45 A
429 .2 .3 T
430 .7 1.03 A
430 .45 .7 E
430 .35 .43 S
430 .08 .25 V
431 .97 3.07 R
431 .05 .97 M
432 1 1.45 Q
432 .7 1 K
432 .4 .7 R
432 .25 .38 A
432 .15 .22 E
433 .58 .7 S
433 .42 .55 E
433 .1 .35 I
434 0 3.52 E
435 .9 1.65 L
435 .45 .9 V
435 .15 .45 I
436 .7 .93 A
436 .5 .7 E
436 .3 .5 N
436 .2 .3 E
437 .68 1.83 A
437 .35 .68 Q
437 .08 .28 I
438 .35 3.23 I
438 .15 .35 M
439 .8 1.35 D
439 .55 .8 G
439 .3 .5 A
439 .2 .3 V
440 .93 1.77 G
440 .57 .93 R
440 .3 .5 H
440 .2 .25 E
441 .83 2.55 G
441 .05 .83 D
443 1 1.65 K
443 .6 1 R
443 .35 .6 Q
443 .1 .28 E
446 0 5.2 C
447 .7 4.73 W
447 .28 .7 F
447 0 .28 D
448 0 5.2 C
449 0 3.63 T
450 0 5 H
451 .72 2.28 V
451 .2 .72 G
451 .05 .2 S
452 0 5.2 C
453 .67 3.7 F
453 .05 .67 W
454 .3 3.3 I
454 .05 .3 L
455 1 3.15 H
455 .67 1 T
455 .45 .67 M
455 .25 .45 Q
456 .85 2.25 D
456 .4 .85 S
456 .2 .4 E
456 .08 .2 N
457 0 3.4 S
458 1.25 2.14 M
458 .5 1.25 L
458 .3 .5 I
458 .12 .3 S
459 .85 1.93 R
459 .4 .85 K
459 .3 .4 V
459 .2 .3 I
460 1.48 3.2 H
460 .4 1.48 F
460 .2 .4 S
460 .08 .2 V
461 .45 2.85 S
461 .05 .45 N
462 1 1.92 P
462 .38 1 R
462 .22 .38 S
463 .85 2.4 R
463 .25 .85 K
464 .85 1.72 A
464 .45 .85 V
464 .2 .45 K
464 .05 .15 S
465 1.05 1.87 L
465 .65 1.05 M
465 .28 .65 Q
465 .2 .28 E
466 .5 2.2 L
466 .28 .5 I
466 .18 .25 T
467 1 1.45 Y
467 .8 1 W
467 .6 .8 F
467 .45 .55 L
467 .35 .45 V
467 .25 .32 H
468 .8 1.5 E
468 .55 .8 D
468 .4 .5 S
468 .2 .35 E
469 .95 1.67 V
469 .55 .95 L
469 .25 .55 I
469 .08 .25 A
470 .33 3.22 P
470 .05 .33 Y
471 .8 2.2 K
471 .5 .8 W
471 .3 .5 L
471 .2 .3 R
471 .1 .2 V
472 .9 1.58 N
472 .68 .9 A
472 .47 .68 S
472 .28 .42 G
472 .15 .25 T
473 .8 3.5 Y
473 .42 .8 F
473 .08 .42 W
473 .02 .08 N
474 .78 1.35 L
474 .55 .78 R
474 .35 .5 F
474 .25 .35 V
475 .9 1.42 T
475 .6 .9 E
475 .45 .6 K
475 .25 .4 R
}\LF
\pgfplotstableread{
x lo hi t
481 .78 2.52 1.7
482 1.51 2.37 0
483 .56 1.17 0
484 1.01 1.64 0
485 .95 2.63 0
486 .91 2.17 0
487 1.02 2.25 0
488 1.49 3.13 0
489 2.46 3.52 0
490 .42 1.09 0
491 .5 1.17 0
492 .53 1.2 0
493 .85 1.73 0
494 .43 1.13 0
495 .4 1.15 0
496 .46 1.32 0
497 .46 1.13 0
498 .57 1.36 0
499 .46 1.33 0
500 .95 2.02 0
501 .51 1.31 0
502 .83 1.75 0
503 1.34 2.56 0
504 1 1.78 0
505 .9 2.06 0
506 .9 2.04 0
507 .46 1.36 0
508 .62 1.72 0
509 .83 2.1 0
510 .82 2.37 0
511 .46 1.46 0
512 .93 2.15 0
513 .88 2.35 0
514 .78 2.23 0
515 .98 2.42 0
516 .64 1.75 1.2
517 .64 1.91 1.3
518 .67 2 1.3
519 .75 2.35 1.6
520 .64 2.27 1.5
521 .67 2.28 1.5
522 .67 2.28 1.5
523 .6 2.25 1.45
}\EG
\pgfplotstableread{
x b t l w
485 .55 1.82 L .15
485 .4 .55 E .15
485 .05 .35 V .15
486 .8 1.5 A .25
486 .55 .75 D .25
486 .4 .52 C .25
486 .05 .35 S .25
487 1 1.65 A .3
487 .5 .9 H .3
487 .05 .45 E .3
488 1.25 2.35 P .2
488 .1 .3 E .2
490 .6 .77 R .55
490 .4 .55 S .55
490 .1 .3 E .55
491 .7 .85 T .55
491 .6 .7 R .55
491 .1 .55 E .55
492 .65 .83 L .55
492 .55 .65 A .55
492 .4 .55 N .55
492 .25 .35 G .55
492 .05 .2 E .55
493 .85 1.3 E .55
493 .65 .8 P .55
493 .5 .65 N .55
493 .35 .5 S .55
493 .03 .3 E .55
494 .6 .78 D .55
494 .45 .6 A .55
494 .1 .35 E .55
495 .55 .75 V .55
495 .2 .5 E .55
496 .65 .9 L .55
496 .45 .6 S .55
496 .15 .4 E .55
497 .6 .8 E .55
497 .1 .5 E .55
498 .75 1 E .55
498 .55 .75 G .55
498 .35 .5 D .55
498 .1 .3 E .55
499 .68 .87 L .55
499 .5 .68 A .55
499 .38 .5 M .55
499 .25 .32 E .55
500 .85 1.48 E .45
500 .45 .75 I .45
500 .3 .45 N .45
500 .03 .25 E .45
501 .65 .92 E .55
501 .4 .6 R .55
501 .1 .35 E .55
502 .85 1.1 K .45
502 .6 .8 A .45
502 .4 .6 R .45
502 .2 .35 E .45
502 .05 .18 T .45
503 .9 1.95 Y .4
503 .7 .85 A .4
503 .5 .7 F .4
503 .3 .5 R .4
503 .1 .3 S .4
504 .95 1.3 R .5
504 .7 .95 H .5
504 .5 .65 A .5
504 .35 .5 N .5
504 .1 .3 S .5
505 .7 1.47 I .3
505 .35 .7 A .3
505 .1 .3 E .3
506 .85 1.47 D .3
506 .4 .7 E .3
506 .05 .35 L .3
507 .75 1 L .5
507 .5 .7 R .5
507 .05 .45 E .5
508 .7 1.15 E .4
508 .05 .6 E .4
509 .85 1.48 K .3
509 .05 .75 E .3
510 .65 1.6 I .15
510 .4 .6 A .2
510 .05 .35 E .2
511 .7 .95 A .4
511 .5 .7 R .4
511 .05 .45 E .4
512 .85 1.55 S .2
512 .2 .8 E .2
513 .75 1.65 I .12
513 .05 .7 E .15
514 .8 1.5 C .25
514 .05 .75 E .25
515 .75 1.7 I .15
515 .05 .7 E .15
}\NG
\pgfplotstableread{
x b t l
482 .8 1.93 R
482 .55 .8 T
482 .4 .55 S
482 .22 .4 O
482 .1 .2 V
483 .7 .87 K
483 .55 .7 E
483 .3 .35 E
483 .05 .25 I
484 .95 1.3 S
484 .65 .95 K
484 .45 .65 R
484 .28 .45 F
484 .15 .25 M
489 1.2 3 W
489 .95 1.2 L
489 .7 .85 H
489 .4 .7 S
489 .25 .4 V
489 .15 .25 E
}\LG
\pgfplotsset{
  logo/.style={
    x=11.25pt,y=12.95pt,ymin=0,ymax=4.34,anchor=south west,clip=false,
    axis y line=none,axis x line=bottom,axis line style={-,line width=.7pt},
    xtick distance=5,minor x tick num=4,
    tick align=outside,
    major tick length=3pt,minor tick length=1.5pt,
    x tick style={line width=.4pt,black},
    xtick pos=bottom,
    tick label style={font=\fontsize{8}{9}\selectfont},
    /pgf/number format/assume math mode=true,
    xticklabel style={/pgf/number format/1000 sep={},inner sep=0pt,yshift=-1.9pt},
  },
  logoy/.style={
    x=11.25pt,y=12.95pt,ymin=0,ymax=4.34,anchor=south west,clip=false,
    axis x line=none,axis y line=left,axis line style={-,line width=.7pt},
    ytick={0,1,2,3,4},minor y tick num=4,
    tick align=outside,
    major tick length=5pt,minor tick length=2.75pt,
    y tick style={line width=.7pt,black},
    ytick pos=left,
    tick label style={font=\fontsize{8}{9}\selectfont},
    /pgf/number format/assume math mode=true,
    yticklabel style={/pgf/number format/fixed,/pgf/number format/fixed zerofill,/pgf/number format/precision=1,inner sep=1.5pt},
    ylabel={bits},ylabel style={font=\fontsize{10}{11}\selectfont,inner sep=0pt},ylabel shift=1pt,
  },
  lett/.style={only marks,mark=none,forget plot,
    point meta=explicit symbolic,
    visualization depends on={\thisrow{t}-\thisrow{b} \as \lH},
    nodes near coords align={anchor=south},
    every node near coord/.append style={inner sep=0pt,outer sep=0pt,anchor=south,black},
  },
  errp/.style={draw=none,mark=none,forget plot,error bars/.cd,y dir=both,y explicit,
    error bar style={errg,line width=.5pt},
    error mark options={errg,rotate=90,mark size=1.6pt,line width=.7pt}},
}
\newcommand\yaxis[3]{\begin{axis}[logoy,at={(32.75pt,{-62.25pt-#1*72.92pt})},xmin=#2,xmax=#3]\end{axis}}
\newcommand\logorow[6]{%
\begin{axis}[logo,at={(32.75pt,{-62.25pt-#1*72.92pt})},xmin=#2,xmax=#3]
\addplot[lett,nodes near coords={\logoL{\pgfplotspointmeta}{\lH}{1}}] table[x=x,y=b,meta=l] {#4};
\addplot[lett,visualization depends on={\thisrow{w} \as \lW},nodes near coords={\logoL{\pgfplotspointmeta}{\lH}{\lW}}] table[x=x,y=b,meta=l] {#5};
\addplot[ycomb,black,line width=.3pt,mark=none,forget plot] table[x=x,y=t] {#6};
\addplot[errp] table[x=x,y=mid,y error=err] {#6};
\end{axis}
\yaxis{#1}{#2}{#3}}
\newcommand\logorowA[5]{%
\begin{axis}[logo,at={(32.75pt,{-62.25pt-#1*72.92pt})},xmin=#2,xmax=#3]
\addplot[lett,visualization depends on={\thisrow{w} \as \lW},nodes near coords={\logoL{\pgfplotspointmeta}{\lH}{\lW}}] table[x=x,y=b,meta=l] {#4};
\addplot[ycomb,black,line width=.3pt,mark=none,forget plot] table[x=x,y=t] {#5};
\addplot[errp] table[x=x,y=mid,y error=err] {#5};
\end{axis}
\yaxis{#1}{#2}{#3}}
\begin{document}
\begin{tikzpicture}[x=1pt,y=1pt]
\path[use as bounding box] (0,0) rectangle (939.5pt,-520.75pt);
\logorowA{0}{0.47}{80.53}{\NA}{\EA}
\logorow{1}{80.47}{160.53}{\LB}{\NB}{\EB}
\logorow{2}{160.47}{240.53}{\LC}{\NC}{\EC}
\logorow{3}{240.47}{320.53}{\LD}{\ND}{\ED}
\logorow{4}{320.47}{400.53}{\LE}{\NE}{\EE}
\logorow{5}{400.47}{480.53}{\LF}{\NF}{\EF}
\logorow{6}{480.47}{523.53}{\LG}{\NG}{\EG}
\node[anchor=east,inner sep=0pt,font=\fontsize{6}{7}\selectfont] at (933pt,-516pt) {WebLogo 3.7.12};
\end{tikzpicture}
\end{document}
